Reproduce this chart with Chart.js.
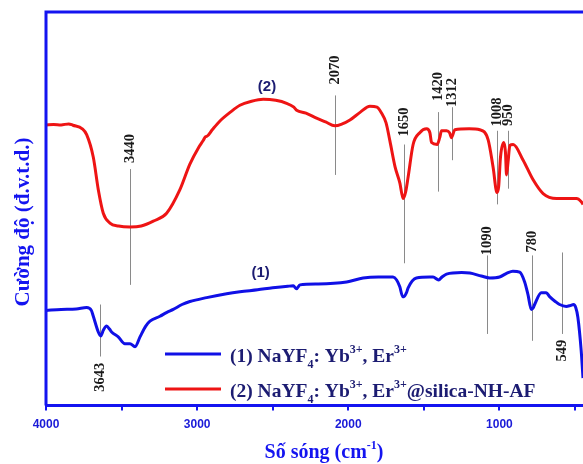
<!DOCTYPE html>
<html>
<head>
<meta charset="utf-8">
<script src="https://cdn.jsdelivr.net/npm/chart.js@4"></script>
<style>
  html, body { margin: 0; padding: 0; background: #fff; }
  #wrap { position: relative; width: 583px; height: 464px; }
</style>
</head>
<body>
<div id="wrap"><canvas id="ftirChart"></canvas></div>
<script>
// Spectrum (1) NaYF4: Yb, Er
const wavenumbers1 = [4000, 3900, 3800, 3731, 3700, 3687, 3654, 3638, 3620, 3599, 3580, 3566, 3522, 3478, 3444, 3411, 3378, 3340, 3312, 3246, 3200, 3158, 3100, 3048, 2937, 2805, 2717, 2600, 2500, 2400, 2364, 2342, 2320, 2200, 2011, 1902, 1800, 1704, 1680, 1659, 1640, 1632, 1615, 1604, 1549, 1461, 1439, 1402, 1380, 1350, 1250, 1196, 1120, 1064, 999, 950, 911, 866, 833, 811, 789, 775, 767, 723, 690, 668, 630, 602, 558, 530, 510, 495, 481, 459, 447];
const intensity1 = [24.25, 24.5, 24.6, 25, 24.25, 22.75, 18.75, 17.75, 19.25, 20.25, 19.5, 18.75, 17.5, 15.75, 15.75, 15, 17.5, 20.25, 21.5, 22.75, 23.75, 24.5, 25.75, 26.5, 27.5, 28.5, 29, 29.5, 30, 30.4, 30.5, 29.75, 30.75, 31, 31.5, 32.5, 32.75, 32.75, 32, 30.25, 27.75, 27.75, 28.75, 30, 32.5, 32.75, 32.75, 32, 32.75, 33.5, 33.9, 33.75, 33, 32.5, 32.75, 33.75, 34.25, 34, 31.5, 28.25, 24.5, 25, 25.75, 28.75, 28.75, 27.75, 26.5, 25.75, 25.25, 25.5, 25.75, 25, 22.5, 14, 7];

// Spectrum (2) NaYF4: Yb, Er@silica-NH-AF
const wavenumbers2 = [4000, 3950, 3900, 3850, 3822, 3760, 3731, 3687, 3654, 3621, 3577, 3520, 3444, 3370, 3290, 3202, 3114, 3048, 2990, 2960, 2945, 2935, 2900, 2849, 2780, 2717, 2640, 2563, 2480, 2408, 2360, 2342, 2280, 2210, 2150, 2089, 2040, 1989, 1920, 1857, 1810, 1780, 1750, 1725, 1690, 1659, 1637, 1620, 1604, 1571, 1527, 1482, 1460, 1449, 1412, 1395, 1383, 1350, 1330, 1317, 1295, 1200, 1130, 1075, 1042, 1016, 1005, 993, 971, 960, 953, 943, 931, 909, 843, 777, 711, 622, 540, 490, 460, 447];
const intensity2 = [71.5, 71.6, 71.5, 71.75, 71.4, 70.5, 69, 63.25, 55, 49, 46.5, 45.75, 45.5, 45.75, 47, 49, 55, 61.5, 65.75, 67.5, 68.5, 68.6, 70.25, 72.5, 74.75, 76.5, 77.5, 78, 77.75, 77, 76, 75.25, 74.5, 73.25, 72.25, 71.25, 71.75, 72.75, 74.75, 76.25, 76, 74.5, 72, 67.5, 60.75, 56.75, 52.75, 54.5, 58.25, 66.5, 69.5, 70.5, 69.5, 67, 66.5, 68.25, 70, 70, 69.5, 68.25, 70.25, 70.5, 70.25, 67.75, 60.75, 54.25, 55.75, 63.25, 67, 64.5, 58.75, 62, 66.25, 66.5, 62.5, 57.5, 54, 52.75, 52.75, 52.75, 52, 51.25];

// x axis ticks
const majorTicks = [4000, 3000, 2000, 1000];
const minorTicks = [3500, 2500, 1500, 500];

// peak markers: drawn position, label, line span and label centre (intensity units)
const peakPos    = [3643, 3442, 2087, 1630, 1407, 1313, 1015, 942, 1083, 784, 587];
const peakLabels = ['3643', '3440', '2070', '1650', '1420', '1312', '1008', '950', '1090', '780', '549'];
const peakFrom   = [25.75, 60.25, 79, 66.5, 74.75, 76, 70, 70, 38.25, 38.25, 39];
const peakTo     = [12.5, 30.75, 58.75, 36.25, 54.5, 62.5, 51.25, 55.25, 18.25, 16.5, 18.25];
const peakLabelY = [7.25, 65.5, 85.5, 72.25, 81.25, 79.75, 74.75, 74, 42, 41.75, 14];

const AXIS_BLUE = '#1414f0';
const NAVY = '#1c1c72';

function drawRich(ctx, parts, x, y, size) {
    // parts: [text, 'n' | 'sub' | 'sup']
    let cx = x;
    parts.forEach(([text, mode]) => {
        const s = mode === 'n' ? size : Math.round(size * 0.62);
        ctx.font = 'bold ' + s + 'px "Liberation Serif", serif';
        let dy = 0;
        if (mode === 'sub') dy = size * 0.3;
        if (mode === 'sup') dy = -size * 0.45;
        ctx.fillText(text, cx, y + dy);
        cx += ctx.measureText(text).width;
    });
    return cx;
}

const decorPlugin = {
    id: 'decor',
    beforeDatasetsDraw(chart) {
        const { ctx, scales: { x, y } } = chart;
        ctx.save();
        ctx.strokeStyle = '#8a8a8a';
        ctx.lineWidth = 1;
        ctx.fillStyle = '#1a1a1a';
        ctx.font = 'bold 14.5px "Liberation Serif", serif';
        ctx.textAlign = 'center';
        ctx.textBaseline = 'middle';
        peakPos.forEach((p, i) => {
            const px = Math.round(x.getPixelForValue(p)) + 0.5;
            ctx.beginPath();
            ctx.moveTo(px, y.getPixelForValue(peakFrom[i]));
            ctx.lineTo(px, y.getPixelForValue(peakTo[i]));
            ctx.stroke();
            ctx.save();
            ctx.translate(px, y.getPixelForValue(peakLabelY[i]));
            ctx.rotate(-Math.PI / 2);
            ctx.fillText(peakLabels[i], 0, 0);
            ctx.restore();
        });
        ctx.restore();
    },
    afterDatasetsDraw(chart) {
        const { ctx, chartArea, scales: { x, y } } = chart;
        ctx.save();

        // left axis and top frame
        ctx.strokeStyle = AXIS_BLUE;
        ctx.lineWidth = 3;
        ctx.beginPath();
        ctx.moveTo(chartArea.left, chartArea.bottom);
        ctx.lineTo(chartArea.left, chartArea.top);
        ctx.lineTo(chartArea.right, chartArea.top);
        ctx.stroke();

        // series labels
        ctx.fillStyle = NAVY;
        ctx.font = 'bold 15px "Liberation Sans", Arial, sans-serif';
        ctx.textAlign = 'center';
        ctx.textBaseline = 'middle';
        ctx.fillText('(2)', x.getPixelForValue(2538), y.getPixelForValue(81.25));
        ctx.fillText('(1)', x.getPixelForValue(2580), y.getPixelForValue(33.75));

        // legend
        ctx.textAlign = 'left';
        ctx.textBaseline = 'alphabetic';
        const rows = [
            { color: chart.data.datasets[0].borderColor, lineY: 354, textY: 362,
              parts: [['(1) NaYF', 'n'], ['4', 'sub'], [': Yb', 'n'], ['3+', 'sup'], [', Er', 'n'], ['3+', 'sup']] },
            { color: chart.data.datasets[1].borderColor, lineY: 389, textY: 397,
              parts: [['(2) NaYF', 'n'], ['4', 'sub'], [': Yb', 'n'], ['3+', 'sup'], [', Er', 'n'], ['3+', 'sup'], ['@silica-NH-AF', 'n']] }
        ];
        rows.forEach(r => {
            ctx.strokeStyle = r.color;
            ctx.lineWidth = 3;
            ctx.beginPath();
            ctx.moveTo(165, r.lineY);
            ctx.lineTo(221, r.lineY);
            ctx.stroke();
            ctx.fillStyle = NAVY;
            drawRich(ctx, r.parts, 230, r.textY, 19.5);
        });

        // axis titles
        ctx.fillStyle = AXIS_BLUE;
        const xt = [['Số sóng (cm', 'n'], ['-1', 'sup'], [')', 'n']];
        ctx.font = 'bold 20px "Liberation Serif", serif';
        let w = ctx.measureText('Số sóng (cm').width + ctx.measureText(')').width;
        ctx.font = 'bold 12px "Liberation Serif", serif';
        w += ctx.measureText('-1').width;
        drawRich(ctx, xt, 324 - w / 2, 458, 20);

        ctx.save();
        ctx.translate(29, 222);
        ctx.rotate(-Math.PI / 2);
        ctx.textAlign = 'center';
        ctx.font = 'bold 21px "Liberation Serif", serif';
        ctx.fillText('Cường độ (đ.v.t.d.)', 0, 0);
        ctx.restore();

        ctx.restore();
    }
};

const ctx = document.getElementById('ftirChart');
new Chart(ctx, {
    type: 'line',
    data: {
        datasets: [
            {
                label: '(1)',
                data: wavenumbers1.map((w, i) => ({ x: w, y: intensity1[i] })),
                borderColor: '#1010e6',
                borderWidth: 3,
                pointRadius: 0,
                cubicInterpolationMode: 'monotone',
                fill: false
            },
            {
                label: '(2)',
                data: wavenumbers2.map((w, i) => ({ x: w, y: intensity2[i] })),
                borderColor: '#ee1414',
                borderWidth: 3,
                pointRadius: 0,
                cubicInterpolationMode: 'monotone',
                fill: false
            }
        ]
    },
    options: {
        responsive: true,
        maintainAspectRatio: false,
        animation: false,
        layout: { padding: { left: 46, top: 12, right: 0, bottom: 25 } },
        plugins: {
            legend: { display: false },
            tooltip: { enabled: false }
        },
        scales: {
            x: {
                type: 'linear',
                reverse: true,
                min: 447,
                max: 4000,
                afterBuildTicks: (axis) => {
                    axis.ticks = majorTicks.concat(minorTicks)
                        .sort((a, b) => b - a)
                        .map(v => ({ value: v }));
                },
                grid: {
                    drawOnChartArea: false,
                    color: AXIS_BLUE,
                    lineWidth: 2,
                    tickLength: 5
                },
                border: { color: AXIS_BLUE, width: 3 },
                ticks: {
                    autoSkip: false,
                    maxRotation: 0,
                    padding: 7,
                    color: '#1a1ad8',
                    font: { family: '"Liberation Sans", Arial, sans-serif', size: 12, weight: 'bold' },
                    callback: (v) => majorTicks.includes(v) ? String(v) : ''
                }
            },
            y: {
                display: false,
                min: 0,
                max: 100.25
            }
        }
    },
    plugins: [decorPlugin]
});
</script>
</body>
</html>
